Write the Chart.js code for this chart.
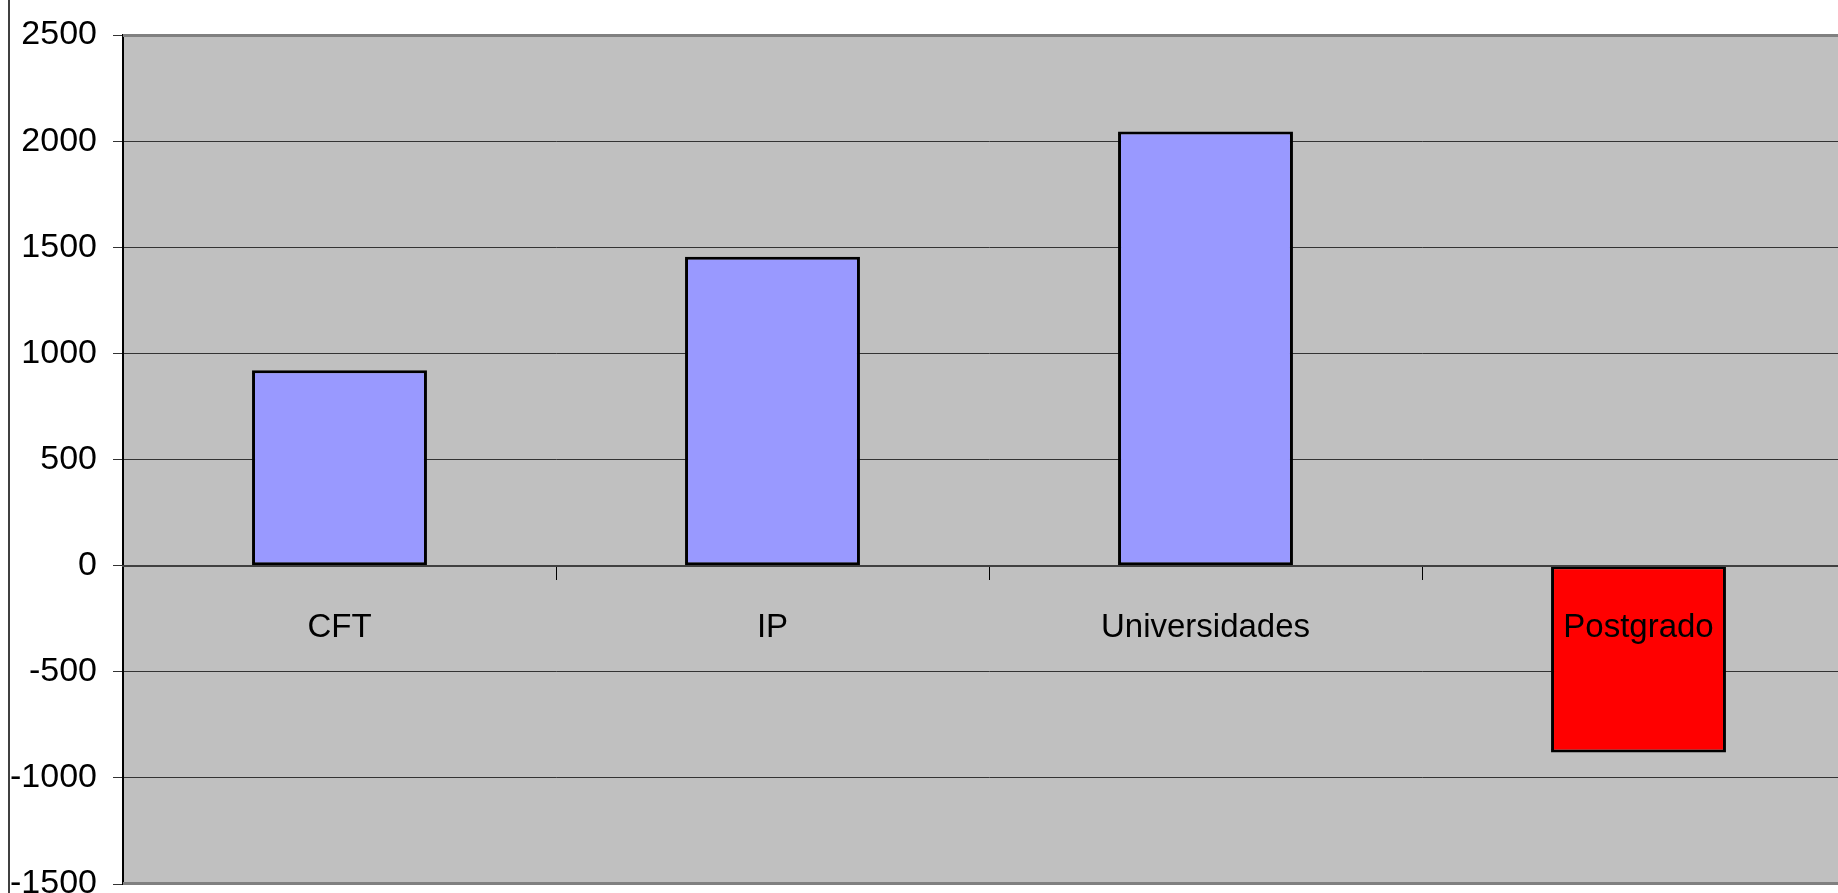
<!DOCTYPE html>
<html>
<head>
<meta charset="utf-8">
<script src="https://cdn.jsdelivr.net/npm/chart.js@4.4.1/dist/chart.umd.min.js"></script>
<style>
  html, body { margin: 0; padding: 0; background: #ffffff; overflow: hidden; }
  #wrap { position: relative; width: 1860px; height: 893px; }
</style>
</head>
<body>
<div id="wrap"><canvas id="c"></canvas></div>
<script>
const categories = ['CFT', 'IP', 'Universidades', 'Postgrado'];
const values = [920, 1455, 2045, -880];
const barColors = ['#9999FF', '#9999FF', '#9999FF', '#FF0000'];
const yMin = -1500, yMax = 2500, yStep = 500;

const FONT = "'Liberation Sans Narrow', 'Arial Narrow', 'Liberation Sans', Arial, sans-serif";

const decor = {
  id: 'decor',
  beforeDraw(chart) {
    const { ctx, chartArea: a } = chart;
    ctx.save();
    ctx.fillStyle = '#C0C0C0';
    ctx.fillRect(a.left, a.top, a.right - a.left, a.bottom - a.top);
    ctx.restore();
  },
  beforeDatasetsDraw(chart) {
    const { ctx, chartArea: a } = chart;
    ctx.save();
    ctx.strokeStyle = '#808080';
    ctx.lineWidth = 3;
    ctx.beginPath();
    ctx.moveTo(a.left, a.top + 0.5); ctx.lineTo(a.right + 10, a.top + 0.5);
    ctx.moveTo(a.left, a.bottom - 0.5); ctx.lineTo(a.right + 10, a.bottom - 0.5);
    ctx.stroke();
    ctx.restore();
  },
  afterDraw(chart) {
    const { ctx } = chart;
    ctx.save();
    ctx.strokeStyle = '#404040';
    ctx.lineWidth = 2;
    ctx.beginPath();
    ctx.moveTo(9, 0); ctx.lineTo(9, chart.height);
    ctx.stroke();
    ctx.restore();
  }
};

new Chart(document.getElementById('c'), {
  type: 'bar',
  data: {
    labels: categories,
    datasets: [{
      data: values,
      backgroundColor: barColors,
      borderColor: '#000000',
      borderWidth: 3,
      borderSkipped: false,
      barPercentage: 0.404,
      categoryPercentage: 1.0
    }]
  },
  options: {
    responsive: true,
    maintainAspectRatio: false,
    animation: false,
    devicePixelRatio: 1,
    layout: { padding: { left: 0, top: 35, right: 5, bottom: 9 } },
    plugins: { legend: { display: false }, tooltip: { enabled: false } },
    scales: {
      x: {
        type: 'category',
        position: { y: 0 },
        offset: true,
        afterFit(scale) { scale.height = 0; scale.paddingLeft = 0; scale.paddingRight = 0; },
        grid: { offset: true, drawOnChartArea: false, drawTicks: true, tickLength: 13, color: '#000000', lineWidth: 1, z: 1 },
        border: { display: true, color: '#404040', width: 2, z: 1 },
        ticks: { color: '#000000', font: { family: FONT, size: 33 }, padding: 29, maxRotation: 0, autoSkip: false, z: 2 }
      },
      y: {
        min: yMin,
        max: yMax,
        afterFit(scale) { scale.width = 123; scale.paddingTop = 0; scale.paddingBottom = 0; },
        ticks: { stepSize: yStep, color: '#000000', font: { family: FONT, size: 34 }, padding: 16,
                 callback: (v) => String(v) },
        grid: { color: '#333333', lineWidth: 1, tickLength: 10, drawTicks: true },
        border: { display: true, color: '#000000', width: 2 }
      }
    }
  },
  plugins: [decor]
});
</script>
</body>
</html>
